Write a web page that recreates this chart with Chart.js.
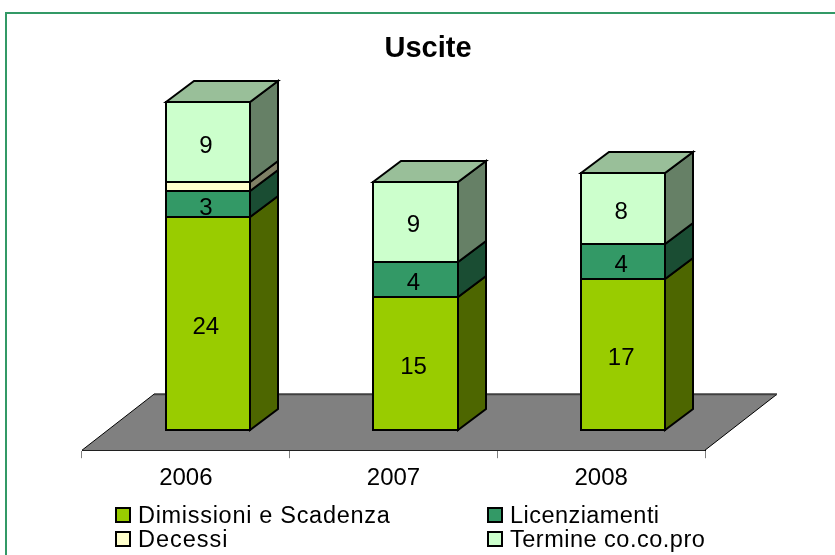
<!DOCTYPE html>
<html>
<head>
<meta charset="utf-8">
<style>html,body{margin:0;padding:0;background:#fff;overflow:hidden}canvas{display:block}</style>
<script src="https://cdn.jsdelivr.net/npm/chart.js@4"></script>
</head>
<body>
<div style="width:835px;height:555px"><canvas id="c" width="835" height="555"></canvas></div>
<script>
const categories = ['2006', '2007', '2008'];
const dimissioni = [24, 15, 17];
const licenziamenti = [3, 4, 4];
const decessi = [1, null, null];
const termine = [9, 9, 8];
const titleText = 'Uscite';

const FONT = '"Liberation Sans", Arial, sans-serif';
const DEPTH_X = 28, DEPTH_Y = 21, BAR_SHIFT = 22;
const FLOOR_X = 72, FLOOR_Y = 56;
const LEGEND_TRACKING = [0.7, 0.45, 1.0, 0.5];

function shade(hex, f) {
  const n = parseInt(hex.slice(1), 16);
  const c = [n >> 16 & 255, n >> 8 & 255, n & 255].map(v => Math.round(v * f));
  return 'rgb(' + c.join(',') + ')';
}
function poly(ctx, pts, fill, stroke, lw) {
  ctx.beginPath();
  pts.forEach((p, i) => i ? ctx.lineTo(p[0], p[1]) : ctx.moveTo(p[0], p[1]));
  ctx.closePath();
  ctx.fillStyle = fill; ctx.fill();
  if (stroke) { ctx.strokeStyle = stroke; ctx.lineWidth = lw; ctx.lineJoin = 'miter'; ctx.stroke(); }
}

const frame = {
  id: 'frame',
  beforeDraw(chart) {
    const ctx = chart.ctx, W = chart.width, H = chart.height;
    ctx.save();
    ctx.fillStyle = '#339966';
    ctx.fillRect(5, 12, W - 5, 2);
    ctx.fillRect(5, 12, 2, H - 12);
    ctx.restore();
  },
  afterLayout(chart) {
    chart.titleBlock.left = 21;
    chart.titleBlock.right = 835;
  }
};

const floor3d = {
  id: 'floor3d',
  beforeDatasetsDraw(chart) {
    const ctx = chart.ctx, a = chart.chartArea;
    ctx.save();
    poly(ctx, [[a.left, a.bottom], [a.left + FLOOR_X, a.bottom - FLOOR_Y],
               [a.right + FLOOR_X, a.bottom - FLOOR_Y], [a.right, a.bottom]], '#808080', null);
    ctx.strokeStyle = '#000'; ctx.lineWidth = 1;
    ctx.beginPath();
    ctx.moveTo(a.left, a.bottom); ctx.lineTo(a.left + FLOOR_X, a.bottom - FLOOR_Y);
    ctx.moveTo(a.right, a.bottom); ctx.lineTo(a.right + FLOOR_X, a.bottom - FLOOR_Y);
    ctx.stroke();
    ctx.strokeStyle = '#404040'; ctx.lineWidth = 2;
    ctx.beginPath();
    ctx.moveTo(a.left + FLOOR_X, a.bottom - FLOOR_Y); ctx.lineTo(a.right + FLOOR_X, a.bottom - FLOOR_Y);
    ctx.stroke();
    ctx.restore();
    ctx.save();
    ctx.translate(BAR_SHIFT, 0);
  },
  afterDatasetsDraw(chart) {
    const ctx = chart.ctx;
    categories.forEach((_, i) => {
      let last = null;
      chart.data.datasets.forEach((ds, d) => {
        const el = chart.getDatasetMeta(d).data[i];
        if (ds.data[i] == null) return;
        const l = Math.round(el.x - el.width / 2), r = Math.round(el.x + el.width / 2);
        const t = Math.round(el.y), b = Math.round(el.base);
        poly(ctx, [[r, t], [r + DEPTH_X, t - DEPTH_Y], [r + DEPTH_X, b - DEPTH_Y], [r, b]],
             shade(ds.backgroundColor, 0.5), '#000', 2);
        ctx.strokeStyle = '#000'; ctx.lineWidth = 2;
        ctx.strokeRect(l, t, r - l, b - t);
        last = { l, r, t, ds };
      });
      if (last) {
        const { l, r, t } = last;
        poly(ctx, [[l, t], [l + DEPTH_X, t - DEPTH_Y], [r + DEPTH_X, t - DEPTH_Y], [r, t]],
             shade(last.ds.backgroundColor, 0.75), '#000', 2);
      }
    });
    ctx.font = '24px ' + FONT;
    ctx.fillStyle = '#000';
    ctx.textAlign = 'center';
    ctx.textBaseline = 'middle';
    chart.data.datasets.forEach((ds, d) => {
      if (ds.unlabelled) return;
      chart.getDatasetMeta(d).data.forEach((el, i) => {
        if (ds.data[i] == null) return;
        ctx.fillText(String(ds.data[i]), el.x - 2, (el.y + el.base) / 2 + 4);
      });
    });
    ctx.restore();
  }
};

const legend2col = {
  id: 'legend2col',
  afterDraw(chart) {
    const ctx = chart.ctx;
    const slots = [[115, 507], [487, 507], [115, 531], [487, 531]];
    ctx.save();
    ctx.font = '23.5px ' + FONT;
    ctx.textAlign = 'left';
    ctx.textBaseline = 'alphabetic';
    chart.data.datasets.forEach((ds, i) => {
      const [x, y] = slots[i];
      ctx.letterSpacing = '0px';
      ctx.fillStyle = ds.backgroundColor;
      ctx.fillRect(x, y, 15, 15);
      ctx.strokeStyle = '#000'; ctx.lineWidth = 2;
      ctx.strokeRect(x + 1, y + 1, 14, 14);
      ctx.fillStyle = '#000';
      ctx.letterSpacing = LEGEND_TRACKING[i] + 'px';
      ctx.fillText(ds.label, x + 23, y + 16);
    });
    ctx.restore();
  }
};

const UNIT_MIN = -2.26, UNIT_MAX = 41.04;
const bar = { barPercentage: 0.4045, categoryPercentage: 1, borderWidth: 0, stack: 's' };

new Chart(document.getElementById('c'), {
  type: 'bar',
  data: {
    labels: categories,
    datasets: [
      { label: 'Dimissioni e Scadenza', data: dimissioni, backgroundColor: '#99CC00', ...bar },
      { label: 'Licenziamenti', data: licenziamenti, backgroundColor: '#339966', ...bar },
      { label: 'Decessi', data: decessi, backgroundColor: '#FFFFCC', unlabelled: true, ...bar },
      { label: 'Termine co.co.pro', data: termine, backgroundColor: '#CCFFCC', ...bar }
    ]
  },
  options: {
    responsive: false,
    animation: false,
    layout: { padding: { left: 82, right: 130, top: 31.6, bottom: 56 } },
    plugins: {
      legend: { display: false },
      tooltip: { enabled: false },
      title: { display: true, text: titleText, color: '#000', font: { family: FONT, size: 29, weight: 'bold' }, padding: { top: 0, bottom: 0 } }
    },
    scales: {
      x: {
        stacked: true,
        grid: { drawOnChartArea: false, drawTicks: true, tickLength: 8, color: '#808080' },
        border: { color: '#000', width: 1 },
        ticks: { color: '#000', font: { family: FONT, size: 24 }, maxRotation: 0, autoSkip: false, padding: 6 }
      },
      y: { stacked: true, display: false, min: UNIT_MIN, max: UNIT_MAX }
    }
  },
  plugins: [frame, floor3d, legend2col]
});
</script>
</body>
</html>
